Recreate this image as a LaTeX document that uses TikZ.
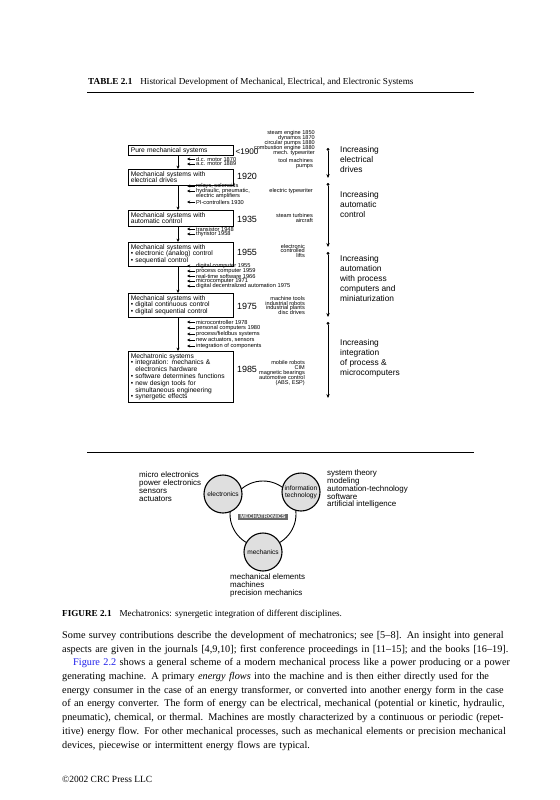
\documentclass[tikz,border=0pt]{standalone}
\usepackage{fontspec}
\setmainfont{Liberation Serif}
\setsansfont{Liberation Sans}
\usetikzlibrary{arrows.meta,positioning}
\definecolor{linkblue}{RGB}{30,30,235}
\tikzset{
  sys/.style={draw, line width=0.6bp, anchor=north west, text width=100bp, inner xsep=2.5bp, inner ysep=2bp, align=left, font=\sffamily\fontsize{6.7}{6.8}\selectfont},
  yr/.style={inner sep=0pt, font=\sffamily\fontsize{9}{9}\selectfont},
  use/.style={anchor=east, align=right, inner sep=0pt, font=\sffamily\fontsize{5.6}{5}\selectfont\lineskiplimit -4pt\relax},
  inv/.style={anchor=west, inner sep=0pt, font=\sffamily\fontsize{5.7}{5}\selectfont},
  trend/.style={anchor=north west, align=left, inner sep=0pt, font=\sffamily\fontsize{8.4}{10}\selectfont},
  flow/.style={draw, line width=0.6bp, -{Stealth[length=3.4bp,width=3bp]}},
  feed/.style={draw, line width=0.5bp, shorten <=1bp, -{Stealth[length=3.2bp,width=3bp]}},
  stage/.style={draw, line width=0.6bp, {Circle[length=2.8bp]}-{Stealth[length=4bp,width=3.4bp]}},
  disc/.style={draw, circle, fill=gray!25, line width=1.1bp, minimum size=38bp, inner sep=0pt, align=center, font=\sffamily\fontsize{6.6}{7}\selectfont},
  field/.style={anchor=north west, align=left, inner sep=0pt, font=\sffamily\fontsize{8}{7.9}\selectfont\lineskiplimit -4pt\relax}
}
\begin{document}
\begin{tikzpicture}[x=1bp,y=1bp]
\useasboundingbox[fill=white] (0,0) rectangle (560,-800);
\node[anchor=west, inner sep=0pt, font=\fontsize{9.2}{11}\selectfont] (title) at (88,-82) {\textbf{TABLE 2.1}\hspace{8bp}Historical Development of Mechanical, Electrical, and Electronic Systems};
\draw[line width=1bp] (87,-92) -- (474,-92);
\begin{scope}
\coordinate (ax) at (178,0);
\node[sys] (1) at (128,-145) {Pure mechanical systems};
\node[sys] (2) at (128,-169) {Mechanical systems with\\electrical drives};
\node[sys] (3) at (128,-210) {Mechanical systems with\\automatic control};
\node[sys] (4) at (128,-242) {Mechanical systems with\\\textbullet\ electronic (analog) control\\\textbullet\ sequential control};
\node[sys] (5) at (128,-293) {Mechanical systems with\\\textbullet\ digital continuous control\\\textbullet\ digital sequential control};
\node[sys] (6) at (128,-351) {Mechatronic systems\\\textbullet\ integration: mechanics \&\\\phantom{\textbullet\ }electronics hardware\\\textbullet\ software determines functions\\\textbullet\ new design tools for\\\phantom{\textbullet\ }simultaneous engineering\\\textbullet\ synergetic effects};
\path[flow] (1.south -| ax) -- (2.north -| ax);
\path[flow] (2.south -| ax) -- (3.north -| ax);
\path[flow] (3.south -| ax) -- (4.north -| ax);
\path[flow] (4.south -| ax) -- (5.north -| ax);
\path[flow] (5.south -| ax) -- (6.north -| ax);
\node[yr, font=\sffamily\fontsize{8.2}{9}\selectfont] (y1) at (247,-152) {<1900};
\node[yr] (y2) at (247,-176) {1920};
\node[yr] (y3) at (247,-219) {1935};
\node[yr] (y4) at (247,-252) {1955};
\node[yr] (y5) at (247,-306) {1975};
\node[yr] (y6) at (247,-369) {1985};
\node[use] (u1) at (315,-143) {steam engine 1850\\dynamos 1870\\circular pumps 1880\\combustion engine 1880\\mech. typewriter};
\node[use] (u2) at (313,-163.5) {tool machines\\pumps};
\node[use] (u3) at (313,-191) {electric typewriter};
\node[use] (u4) at (313,-218) {steam turbines\\aircraft};
\node[use] (u5) at (305,-251) {electronic\\controlled\\lifts};
\node[use] (u6) at (305,-305.5) {machine tools\\industrial robots\\industrial plants\\disc drives};
\node[use] (u7) at (305,-373) {mobile robots\\CIM\\magnetic bearings\\automotive control\\(ABS, ESP)};
\node[inv] (i1) at (196,-159) {d.c. motor 1870};
\node[inv] (i2) at (196,-164) {a.c. motor 1889};
\node[inv] (i3) at (196,-186) {relays, solenoids};
\node[inv] (i4) at (196,-191) {hydraulic, pneumatic,};
\node[inv] (i5) at (196,-196) {electric amplifiers};
\node[inv] (i6) at (196,-202) {PI-controllers 1930};
\node[inv] (i7) at (196,-229) {transistor 1948};
\node[inv] (i8) at (196,-234) {thyristor 1958};
\node[inv] (i9) at (196,-266) {digital computer 1955};
\node[inv] (i10) at (196,-271) {process computer 1959};
\node[inv] (i11) at (196,-276) {real-time software 1966};
\node[inv] (i12) at (196,-281) {microcomputer 1971};
\node[inv] (i13) at (196,-286) {digital decentralized automation 1975};
\node[inv] (i14) at (196,-322) {microcontroller 1978};
\node[inv] (i15) at (196,-328) {personal computers 1980};
\node[inv] (i16) at (196,-334) {process/fieldbus systems};
\node[inv] (i17) at (196,-340) {new actuators, sensors};
\node[inv] (i18) at (196,-346) {integration of components};
\path[feed] (i1.west) -- ++(-9,0);
\path[feed] (i2.west) -- ++(-9,0);
\path[feed] (i3.west) -- ++(-9,0);
\path[feed] (i4.west) -- ++(-9,0);
\path[feed] (i6.west) -- ++(-9,0);
\path[feed] (i7.west) -- ++(-9,0);
\path[feed] (i8.west) -- ++(-9,0);
\path[feed] (i9.west) -- ++(-9,0);
\path[feed] (i10.west) -- ++(-9,0);
\path[feed] (i11.west) -- ++(-9,0);
\path[feed] (i12.west) -- ++(-9,0);
\path[feed] (i13.west) -- ++(-9,0);
\path[feed] (i14.west) -- ++(-9,0);
\path[feed] (i15.west) -- ++(-9,0);
\path[feed] (i16.west) -- ++(-9,0);
\path[feed] (i17.west) -- ++(-9,0);
\path[feed] (i18.west) -- ++(-9,0);
\coordinate (r1) at (328,-148);
\coordinate (r2) at (328,-178);
\coordinate (r3) at (328,-183);
\coordinate (r4) at (328,-247);
\coordinate (r5) at (328,-252);
\coordinate (r6) at (328,-317);
\coordinate (r7) at (328,-322);
\coordinate (r8) at (328,-398);
\path[stage] (r1) -- (r2);
\path[stage] (r3) -- (r4);
\path[stage] (r5) -- (r6);
\path[stage] (r7) -- (r8);
\node[trend] (t1) at (340,-146) {Increasing\\electrical\\drives};
\node[trend] (t2) at (340,-191) {Increasing\\automatic\\control};
\node[trend] (t3) at (340,-255) {Increasing\\automation\\with process\\computers and\\miniaturization};
\node[trend] (t4) at (340,-339) {Increasing\\integration\\of process \&\\microcomputers};
\end{scope}
\draw[line width=0.6bp] (87,-452) -- (474,-452);
\begin{scope}
\node[draw, circle, line width=0.9bp, minimum size=66bp, fill=white] (core) at (263,-514) {};
\node[disc] (el) at (223,-494) {electronics};
\node[disc] (it) at (301,-492) {information\\technology};
\node[disc] (me) at (263,-552) {mechanics};
\node[fill=black!58, text=white, inner xsep=2bp, inner ysep=1bp, font=\sffamily\bfseries\fontsize{5.6}{6}\selectfont] (mt) at (263,-517) {MECHATRONICS};
\node[field] (f1) at (139,-472) {micro electronics\\power electronics\\sensors\\actuators};
\node[field] (f2) at (327,-469.5) {system theory\\modeling\\automation-technology\\software\\artificial intelligence};
\node[field] (f3) at (230,-573.5) {mechanical elements\\machines\\precision mechanics};
\end{scope}
\node[anchor=west, inner sep=0pt, font=\fontsize{9.2}{11}\selectfont] (cap) at (62,-614) {\textbf{FIGURE 2.1}\hspace{8bp}Mechatronics: synergetic integration of different disciplines.};
\node[anchor=north west, inner sep=0pt, text width=439bp, align=left, font=\fontsize{10.3}{13.75}\selectfont] (body) at (62,-631) {%
\makebox[439bp][s]{Some survey contributions describe the development of mechatronics; see [5--8]. An insight into general}\\
\makebox[439bp][s]{aspects are given in the journals [4,9,10]; first conference proceedings in [11--15]; and the books [16--19].}\\
\makebox[439bp][s]{\hspace*{11bp}{\color{linkblue}Figure 2.2} shows a general scheme of a modern mechanical process like a power producing or a power}\\
\makebox[439bp][s]{generating machine. A primary \emph{energy flows} into the machine and is then either directly used for the}\\
\makebox[439bp][s]{energy consumer in the case of an energy transformer, or converted into another energy form in the case}\\
\makebox[439bp][s]{of an energy converter. The form of energy can be electrical, mechanical (potential or kinetic, hydraulic,}\\
\makebox[439bp][s]{pneumatic), chemical, or thermal. Machines are mostly characterized by a continuous or periodic (repet-}\\
\makebox[439bp][s]{itive) energy flow. For other mechanical processes, such as mechanical elements or precision mechanical}\\
devices, piecewise or intermittent energy flows are typical.};
\node[anchor=west, inner sep=0pt, font=\fontsize{9.5}{11}\selectfont] (foot) at (62,-779) {\textcopyright 2002 CRC Press LLC};
\end{tikzpicture}
\end{document}
